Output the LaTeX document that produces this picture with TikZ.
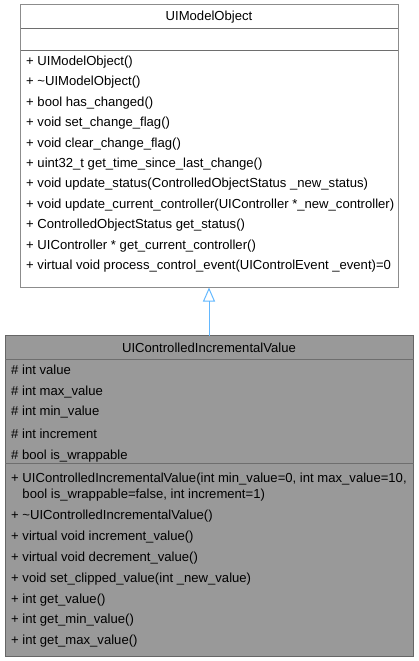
\documentclass[tikz,border=0pt]{standalone}
\usepackage{fontspec}
\setmainfont{Liberation Sans}
\usetikzlibrary{arrows.meta}
\definecolor{boxline}{HTML}{8C8C8C}
\definecolor{sepline}{HTML}{6E6E6E}
\definecolor{hlfill}{HTML}{999999}
\definecolor{hlline}{HTML}{666666}
\definecolor{inherit}{HTML}{63B8FF}
\tikzset{
  member/.style={anchor=mid west, inner sep=0pt, yshift=-1.5pt, font=\fontsize{13.1}{15}\selectfont},
  title/.style={anchor=mid, inner sep=0pt, yshift=-1.5pt, font=\fontsize{13.1}{15}\selectfont},
  classbox/.style={draw=boxline, line width=1pt, fill=white, inner sep=0pt},
  hlbox/.style={draw=hlline, line width=1pt, fill=hlfill, inner sep=0pt},
  sep/.style={draw=sepline, line width=1pt},
}
\begin{document}
\begin{tikzpicture}[x=1pt, y=-1pt]
\useasboundingbox (0,0) rectangle (419,661);

% base class UIModelObject
\path[classbox] (20.5,4.5) rectangle (398,287.5);
\coordinate (baseS) at (209,287.5);
\draw[sep] (20.5,29) -- (398,29);
\draw[sep] (20.5,50.5) -- (398,50.5);
\node[title] (baseT) at (209,16.5) {UIModelObject};
\foreach \y/\t [count=\i] in {
  61/{+ UIModelObject()},
  81.5/{+ \char`\~UIModelObject()},
  102/{+ bool has\_changed()},
  122.5/{+ void set\_change\_flag()},
  143/{+ void clear\_change\_flag()},
  163/{+ uint32\_t get\_time\_since\_last\_change()},
  183.5/{+ void update\_status(ControlledObjectStatus \_new\_status)},
  204/{+ void update\_current\_controller(UIController *\_new\_controller)},
  224.5/{+ ControlledObjectStatus get\_status()},
  245/{+ UIController * get\_current\_controller()},
  265/{+ virtual void process\_control\_event(UIControlEvent \_event)=0}}
  \node[member] (bm\i) at (26,\y) {\t};

% derived class UIControlledIncrementalValue
\path[hlbox] (5,335.5) rectangle (413.5,656);
\coordinate (derN) at (209,335.5);
\draw[sep] (5,359.5) -- (413.5,359.5);
\draw[sep] (5,463.5) -- (413.5,463.5);
\node[title] (derT) at (209,348) {UIControlledIncrementalValue};
\foreach \y/\t [count=\i] in {
  370/{\# int value},
  391/{\# int max\_value},
  411.5/{\# int min\_value},
  434/{\# int increment},
  455/{\# bool is\_wrappable}}
  \node[member] (da\i) at (11,\y) {\t};
\foreach \y/\t [count=\i] in {
  478/{+ UIControlledIncrementalValue(int min\_value=0, int max\_value=10,},
  494.5/{\phantom{+ }bool is\_wrappable=false, int increment=1)},
  515.5/{+ \char`\~UIControlledIncrementalValue()},
  536.5/{+ virtual void increment\_value()},
  557.5/{+ virtual void decrement\_value()},
  578/{+ void set\_clipped\_value(int \_new\_value)},
  599/{+ int get\_value()},
  619.5/{+ int get\_min\_value()},
  640/{+ int get\_max\_value()}}
  \node[member] (dm\i) at (11,\y) {\t};

% inheritance
\draw[inherit, line width=1pt, -{Triangle[open, length=14pt, width=12pt]}] (derN) -- (baseS);
\end{tikzpicture}
\end{document}
